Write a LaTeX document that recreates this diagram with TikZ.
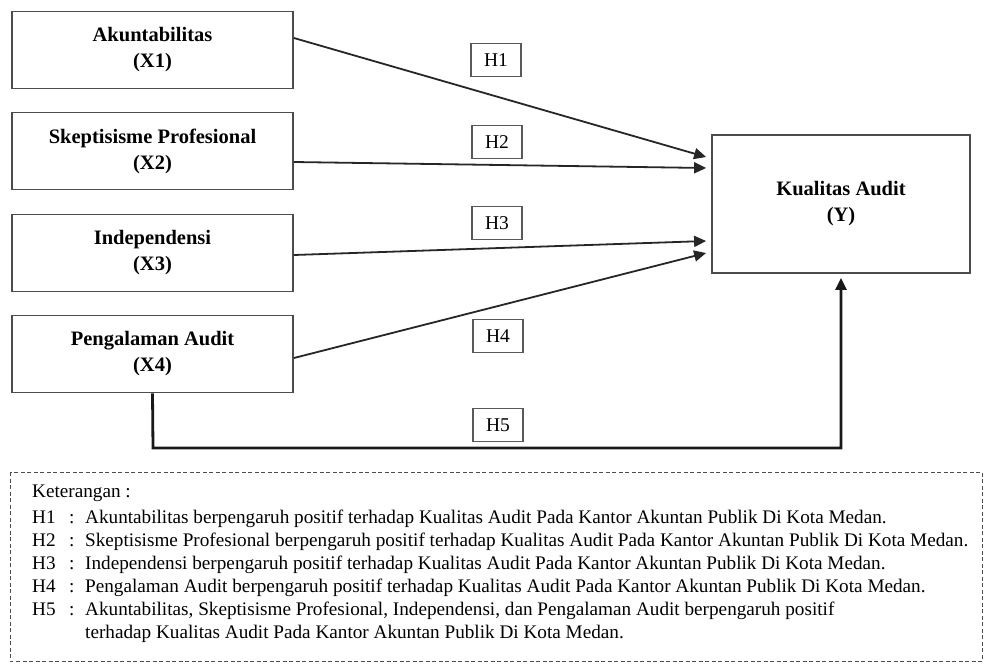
\documentclass[tikz,border=0pt]{standalone}
\usepackage{fontspec}
\setmainfont{Liberation Serif}
\usepackage{tikz}
\usetikzlibrary{arrows.meta, positioning, calc}

\begin{document}
\begin{tikzpicture}[
    x=1pt, y=-1pt,
    every node/.style={font=\fontsize{19.2}{23}\selectfont},
    varbox/.style={rectangle, draw=black!70, line width=1.8pt, minimum width=281pt, minimum height=77pt, align=center, font=\fontsize{20.5}{26}\selectfont\bfseries},
    hypbox/.style={rectangle, draw=black!65, line width=1.5pt, minimum width=50pt, minimum height=33pt, inner sep=0pt, font=\fontsize{19.5}{23}\selectfont},
    arr/.style={-{Triangle[length=12pt, width=11pt]}, line width=1.8pt, black!85},
    thickarr/.style={-{Triangle[length=12pt, width=11pt]}, line width=2.8pt, black!90},
]
\useasboundingbox (0,0) rectangle (984,664);

% ── Independent variables ──
\node[varbox] (x1) at (152.5,50) {Akuntabilitas\\(X1)};
\node[varbox] (x2) at (152.5,151) {Skeptisisme Profesional\\(X2)};
\node[varbox] (x3) at (152.5,253) {Independensi\\(X3)};
\node[varbox] (x4) at (152.5,354) {Pengalaman Audit\\(X4)};

% ── Dependent variable ──
\node[varbox, minimum width=258pt, minimum height=138pt] (kualitas) at (841,204) {Kualitas Audit\\(Y)};

% ── Hypothesis labels ──
\node[hypbox] (h1) at (496,60) {H1};
\node[hypbox] (h2) at (497,142) {H2};
\node[hypbox] (h3) at (497,223) {H3};
\node[hypbox] (h4) at (498,336) {H4};
\node[hypbox] (h5) at (498,425) {H5};

% ── Arrows ──
\draw[arr] ([yshift=12pt]x1.east) -- ([xshift=-5pt,yshift=47pt]kualitas.west);
\draw[arr] ([yshift=-11pt]x2.east) -- ([xshift=-5pt,yshift=36pt]kualitas.west);
\draw[arr] ([yshift=-2pt]x3.east) -- ([xshift=-5pt,yshift=-37pt]kualitas.west);
\draw[arr] ([yshift=-4pt]x4.east) -- ([xshift=-5pt,yshift=-49pt]kualitas.west);
\coordinate (corner) at (153,448);
\draw[thickarr] (x4.south) -- (corner) -| ([yshift=-4pt]kualitas.south);

% ── Legend ──
\draw[dashed, line width=1pt, black!70, dash pattern=on 4pt off 2.5pt] (10,472) rectangle (982,661);
\node[anchor=north west, align=left, inner sep=0pt] (legend) at (32,485) {%
Keterangan :\\[3pt]
\makebox[37pt][l]{H1}\makebox[16pt][l]{:}Akuntabilitas berpengaruh positif terhadap Kualitas Audit Pada Kantor Akuntan Publik Di Kota Medan.\\
\makebox[37pt][l]{H2}\makebox[16pt][l]{:}Skeptisisme Profesional berpengaruh positif terhadap Kualitas Audit Pada Kantor Akuntan Publik Di Kota Medan.\\
\makebox[37pt][l]{H3}\makebox[16pt][l]{:}Independensi berpengaruh positif terhadap Kualitas Audit Pada Kantor Akuntan Publik Di Kota Medan.\\
\makebox[37pt][l]{H4}\makebox[16pt][l]{:}Pengalaman Audit berpengaruh positif terhadap Kualitas Audit Pada Kantor Akuntan Publik Di Kota Medan.\\
\makebox[37pt][l]{H5}\makebox[16pt][l]{:}Akuntabilitas, Skeptisisme Profesional, Independensi, dan Pengalaman Audit berpengaruh positif\\
\hspace{53pt}terhadap Kualitas Audit Pada Kantor Akuntan Publik Di Kota Medan.};

\end{tikzpicture}
\end{document}
